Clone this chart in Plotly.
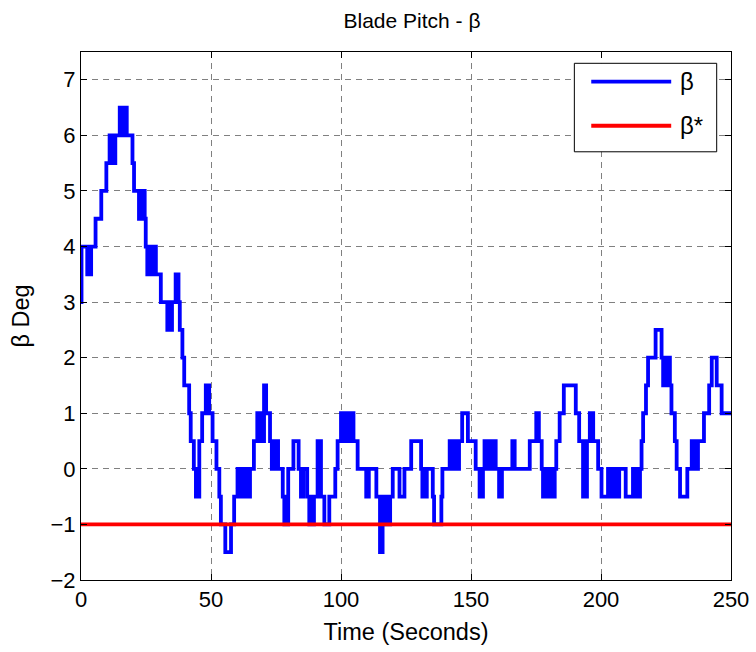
import plotly.graph_objects as go

# Step-wise blade pitch (breakpoints: value holds from time until next time)
time_s = [0, 0.2, 2.4, 3.0, 3.4, 3.9, 4.3, 5.6, 7.8, 9.75, 11.0, 11.6, 12.2, 12.7, 13.2, 14.9, 15.5, 16.0, 16.6, 17.1, 17.6,
          18.1, 19.8, 20.4, 22.3, 22.9, 23.5, 24.1, 24.5, 24.9, 25.5, 26.1, 26.7, 27.3, 27.9, 28.4, 28.8, 30.7,
          33.2, 33.8, 34.4, 35.0, 36.4, 37.5, 38.0, 39.0, 39.7, 41.6, 42.2, 43.4, 44.2, 44.7, 45.2, 45.5, 46.6,
          48.0, 49.3, 50.6, 52.1, 53.2, 53.8, 55.5, 57.7, 58.9, 60.2, 60.8, 61.4, 62.0, 62.6, 63.2, 63.8, 64.4,
          65.0, 66.5, 67.8, 68.5, 69.1, 69.6, 70.4, 71.2, 72.7, 73.4, 74.0, 74.6, 75.2, 75.8, 77.6, 78.2, 78.7,
          79.2, 79.7, 81.7, 83.7, 84.6, 85.5, 87.0, 87.8, 88.4, 89.0, 89.6, 90.1, 91.0, 92.3, 93.6, 95.5, 97.8,
          98.7, 100.0, 100.6, 101.2, 102.0, 103.0, 103.6, 104.2, 104.8, 106.4, 109.7, 110.7, 113.6, 115.0, 116.0,
          117.1, 117.7, 118.3, 118.9, 119.9, 122.5, 124.4, 127.0, 130.8, 131.3, 131.9, 132.4, 133.0, 135.3,
          135.8, 138.6, 139.0, 141.8, 142.4, 143.0, 143.6, 144.2, 144.8, 145.4, 146.6, 148.8, 151.8, 153.3,
          154.6, 155.2, 155.8, 156.4, 157.0, 157.6, 158.2, 158.8, 159.5, 160.8, 161.9, 165.9, 166.8, 172.6,
          175.1, 176.1, 177.2, 177.7, 178.3, 178.8, 179.3, 180.7, 181.2, 181.7, 182.2, 182.8, 184.1, 185.7,
          190.3, 191.6, 193.1, 193.6, 194.1, 194.6, 195.7, 197.0, 198.9, 200.2, 202.7, 203.8, 204.9, 206.0,
          207.0, 209.5, 212.3, 213.0, 213.6, 214.3, 215.0, 215.6, 216.2, 217.3, 218.1, 221.0, 223.3, 223.9,
          224.5, 225.1, 225.7, 226.5, 227.1, 228.4, 229.1, 230.4, 233.2, 234.9, 235.5, 236.1, 236.7, 237.3,
          239.6, 241.6, 242.6, 244.5, 246.4, 250.0]
beta_deg = [3, 4, 3.5, 4, 3.5, 4, 4, 4.5, 5, 5.5, 6, 5.5, 6, 5.5, 6, 6.5, 6, 6.5, 6, 6.5, 6,
            6, 5.5, 5, 4.5, 5, 4.5, 5, 4.5, 4, 3.5, 4, 3.5, 4, 3.5, 4, 3.5, 3,
            2.5, 3, 2.5, 3, 3.5, 3, 2.5, 2, 1.5, 1, 0.5, 0, -0.5, 0, -0.5, 0.5, 1,
            1.5, 1, 0.5, 0, -0.5, -1, -1.5, -1, -0.5, 0, -0.5, 0, -0.5, 0, -0.5, 0, -0.5,
            0, 0.5, 1, 0.5, 1, 0.5, 1.5, 1, 0.5, 0, 0.5, 0, 0.5, 0, -0.5, -1, -0.5,
            -1, 0, 0.5, 0, -0.5, 0, -0.5, -1, -0.5, -1, -0.5, -0.5, 0.5, -0.5, -1, -0.5, 0,
            0.5, 1, 0.5, 1, 0.5, 1, 0.5, 1, 0.5, 0, -0.5, 0, -0.5, -1.5, -0.5,
            -1, -0.5, -1, -0.5, 0, -0.5, 0, 0.5, 0, -0.5, 0, -0.5, 0, -0.5,
            -1, -0.5, 0, 0.5, 0, 0.5, 0, 0.5, 0, 0.5, 1, 0.5, 0, -0.5,
            0, 0.5, 0, 0.5, 0, 0.5, 0, 0.5, 0, -0.5, 0, 0.5, 0, 0.5,
            1, 0.5, 0, -0.5, 0, -0.5, 0, -0.5, 0, -0.5, 0, 0.5, 1, 1.5,
            1, 0.5, -0.5, 0.5, -0.5, 0.5, 1, 0.5, 0, -0.5, 0, -0.5, 0, -0.5,
            0, -0.5, 0, -0.5, 0, -0.5, 0, 0.5, 1, 1.5, 2, 2.5, 2, 1.5,
            2, 1.5, 2, 1.5, 1, 0.5, 0, -0.5, 0, 0.5, 0, 0.5, 0, 0.5,
            1, 1.5, 2, 1.5, 1, 1]

ref_time = [0, 250]
beta_star = [-1, -1]

x_ticks = [0, 50, 100, 150, 200, 250]
y_ticks = [-2, -1, 0, 1, 2, 3, 4, 5, 6, 7]

FONT = "Liberation Sans, Arial, sans-serif"

fig = go.Figure()
fig.add_trace(go.Scatter(x=time_s, y=beta_deg, mode="lines", line=dict(color="#0000ff", width=3.8, shape="hv"),
                         name="β", showlegend=False))
fig.add_trace(go.Scatter(x=ref_time, y=beta_star, mode="lines", line=dict(color="#ff0000", width=3.8),
                         name="β*", showlegend=False))

axis_common = dict(showline=True, linecolor="black", linewidth=1, mirror="ticks", ticks="inside", ticklen=6,
                   tickcolor="black", showgrid=True, gridcolor="#808080", griddash="6px,5px", gridwidth=1,
                   zeroline=False, automargin=False, tickfont=dict(family=FONT, size=22, color="black"))

fig.update_xaxes(range=[0, 250], tickvals=x_ticks,
                 title=dict(text="Time (Seconds)", font=dict(family=FONT, size=23.5, color="black"), standoff=12),
                 **axis_common)
fig.update_yaxes(range=[-2, 7.5], tickvals=y_ticks,
                 title=dict(text="β Deg", font=dict(family=FONT, size=23.5, color="black"), standoff=14),
                 **axis_common)

# Legend drawn manually (MATLAB style box)
lx0, lx1, ly0, ly1 = 0.759, 0.978, 0.811, 0.9786
fig.add_shape(type="rect", xref="paper", yref="paper", x0=lx0, x1=lx1, y0=ly0, y1=ly1,
              line=dict(color="black", width=1), fillcolor="white", layer="above")
fig.add_shape(type="line", xref="paper", yref="paper", x0=0.785, x1=0.908, y0=0.9438, y1=0.9438,
              line=dict(color="#0000ff", width=3.8), layer="above")
fig.add_shape(type="line", xref="paper", yref="paper", x0=0.785, x1=0.908, y0=0.8603, y1=0.8603,
              line=dict(color="#ff0000", width=3.8), layer="above")
for yy, txt in [(0.9438, "β"), (0.8603, "β*")]:
    fig.add_annotation(xref="paper", yref="paper", x=0.918, y=yy, text=txt, showarrow=False, xanchor="left",
                       yanchor="middle", font=dict(family=FONT, size=24, color="black"))

fig.update_layout(
    width=756, height=652,
    margin=dict(l=81, r=25, t=52, b=72, autoexpand=False),
    paper_bgcolor="white", plot_bgcolor="white",
    title=dict(text="Blade Pitch - β", x=0.545, xanchor="center", y=0.969, yanchor="middle",
               font=dict(family=FONT, size=21, color="black")),
    showlegend=False,
)

fig.write_html("out.html")
